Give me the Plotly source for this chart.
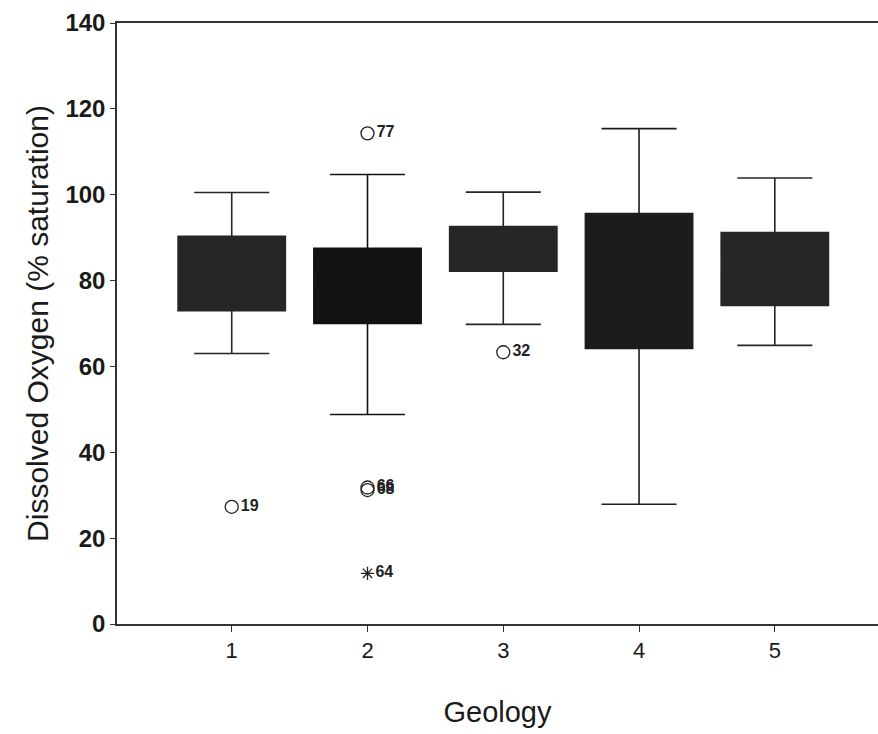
import plotly.graph_objects as go

# Dissolved oxygen (% saturation) summary by geology class
geology = [1, 2, 3, 4, 5]
lower_whisker = [63.0, 48.8, 69.8, 27.9, 64.9]
q1 = [73.0, 70.0, 82.2, 64.2, 74.2]
median = [82.0, 80.0, 91.0, 91.0, 84.0]
q3 = [90.3, 87.5, 92.6, 95.6, 91.2]
upper_whisker = [100.5, 104.7, 100.6, 115.4, 103.9]
box_fill = ["#262626", "#121212", "#262626", "#1c1c1c", "#262626"]

# Outlying cases (circles) and extreme cases (asterisks) with case numbers
outlier_geology = [1, 2, 2, 2, 3]
outlier_value = [27.3, 114.3, 31.8, 31.2, 63.3]
outlier_case = ["19", "77", "66", "68", "32"]
extreme_geology = [2]
extreme_value = [11.8]
extreme_case = ["64"]

y_ticks = [0, 20, 40, 60, 80, 100, 120, 140]

FONT = "Liberation Sans, Arial, sans-serif"

fig = go.Figure()

for i, g in enumerate(geology):
    fig.add_trace(go.Box(
        x=[g],
        q1=[q1[i]],
        median=[median[i]],
        q3=[q3[i]],
        lowerfence=[lower_whisker[i]],
        upperfence=[upper_whisker[i]],
        width=0.79,
        whiskerwidth=0.7,
        fillcolor=box_fill[i],
        line=dict(color=box_fill[i], width=1.6),
        boxpoints=False,
        hoverinfo="skip",
        showlegend=False,
    ))

fig.add_trace(go.Scatter(
    x=outlier_geology,
    y=outlier_value,
    mode="markers+text",
    marker=dict(symbol="circle-open", size=13, color="#222222", line=dict(width=1.3)),
    text=["<b>%s</b>" % c for c in outlier_case],
    textposition="middle right",
    textfont=dict(family=FONT, size=16, color="#222222"),
    showlegend=False,
))

fig.add_trace(go.Scatter(
    x=extreme_geology,
    y=extreme_value,
    mode="markers+text",
    marker=dict(symbol="asterisk-open", size=11, color="#222222", line=dict(width=1.3)),
    text=["<b>%s</b>" % c for c in extreme_case],
    textposition="middle right",
    textfont=dict(family=FONT, size=16, color="#222222"),
    showlegend=False,
))

fig.update_layout(
    width=878,
    height=734,
    margin=dict(l=117, r=0, t=23, b=110),
    paper_bgcolor="white",
    plot_bgcolor="white",
    font=dict(family=FONT, color="#1a1a1a"),
    boxmode="overlay",
)

fig.update_xaxes(
    range=[0.155, 5.76],
    tickmode="array",
    tickvals=geology,
    ticktext=[str(g) for g in geology],
    ticks="outside",
    ticklen=6,
    tickcolor="#333333",
    tickfont=dict(size=22),
    showgrid=False,
    zeroline=False,
    showline=True,
    linecolor="#333333",
    linewidth=1.5,
    mirror=True,
    title=dict(text="Geology", font=dict(size=29), standoff=40),
)

fig.update_yaxes(
    range=[0, 140],
    tickmode="array",
    tickvals=y_ticks,
    ticktext=["<b>%d</b>" % v for v in y_ticks],
    ticks="outside",
    ticklen=5,
    tickcolor="#333333",
    tickfont=dict(size=24),
    showgrid=False,
    zeroline=False,
    showline=True,
    linecolor="#333333",
    linewidth=1.5,
    title=dict(text="Dissolved Oxygen (% saturation)", font=dict(size=30), standoff=8),
)

fig.write_html("out.html")
